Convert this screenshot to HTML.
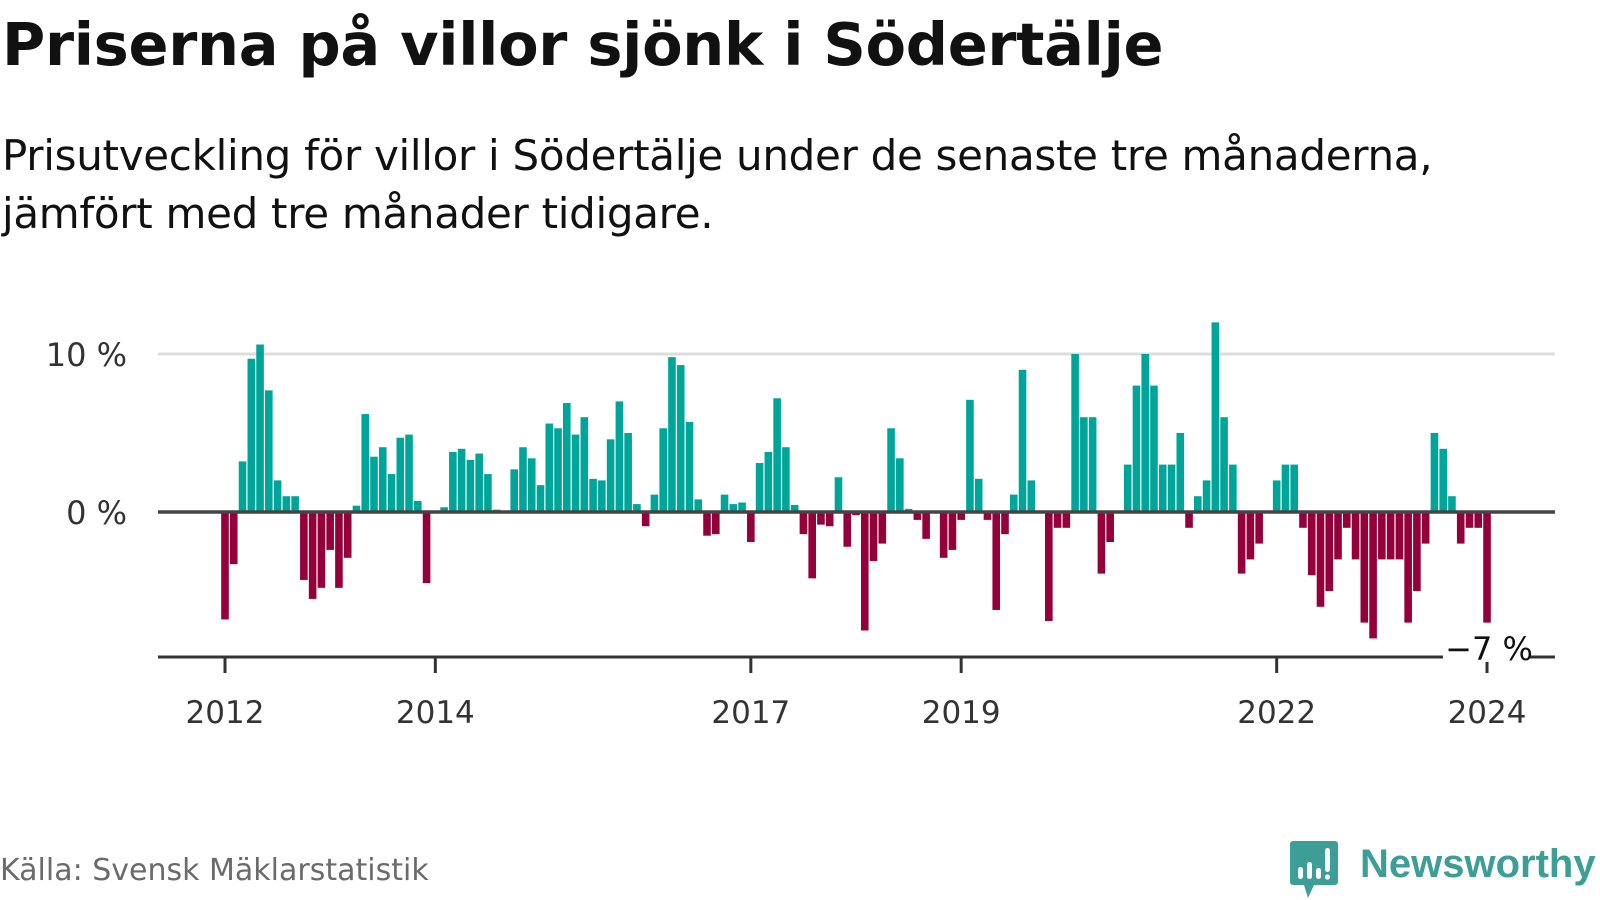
<!DOCTYPE html>
<html><head><meta charset="utf-8">
<style>
body{margin:0;width:1600px;height:900px;background:#fff;overflow:hidden;font-family:"DejaVu Sans","Liberation Sans",sans-serif;color:#111;}
#title{position:absolute;left:2px;top:10px;font-size:59px;font-weight:bold;margin:0;white-space:nowrap;letter-spacing:-0.3px;}
#sub{position:absolute;left:2px;top:127px;font-size:42px;line-height:58px;margin:0;color:#111;white-space:nowrap;letter-spacing:-0.3px;}
#src{position:absolute;left:0;top:853px;font-size:30px;color:#6b6b6b;}
#logo{position:absolute;left:1290px;top:840px;}
#brand{position:absolute;left:1360px;top:842px;font-size:40px;font-weight:bold;color:#3d9e97;font-family:"Liberation Sans",sans-serif;}
svg{position:absolute;left:0;top:0;}
</style></head><body>
<h1 id="title">Priserna på villor sjönk i Södertälje</h1>
<p id="sub">Prisutveckling för villor i Södertälje under de senaste tre månaderna,<br>jämfört med tre månader tidigare.</p>
<svg id="chart" width="1600" height="900"></svg>
<div id="src">Källa: Svensk Mäklarstatistik</div>
<svg id="logo" width="50" height="60" viewBox="0 0 50 60">
<path d="M3 1h42a3 3 0 0 1 3 3v38a3 3 0 0 1-3 3H24l-6 13-4-13H3a3 3 0 0 1-3-3V4a3 3 0 0 1 3-3z" fill="#3d9e97"/>
<rect x="8" y="27" width="5" height="12" rx="2.5" fill="#fff"/><rect x="17" y="22" width="5" height="17" rx="2.5" fill="#fff"/><rect x="26" y="28" width="5" height="11" rx="2.5" fill="#fff"/><rect x="35" y="8" width="5" height="24" rx="2.5" fill="#fff"/><circle cx="37.5" cy="37" r="2.6" fill="#fff"/>
</svg>
<div id="brand">Newsworthy</div>
<script>
const startYear = 2012;
const values = [
-6.8,-3.3,3.2,9.7,10.6,7.7,2.0,1.0,1.0,-4.3,-5.5,-4.8,
-2.4,-4.8,-2.9,0.4,6.2,3.5,4.1,2.4,4.7,4.9,0.7,-4.5,
0,0.3,3.8,4.0,3.3,3.7,2.4,0.15,0,2.7,4.1,3.4,
1.7,5.6,5.3,6.9,4.9,6.0,2.1,2.0,4.6,7.0,5.0,0.5,
-0.9,1.1,5.3,9.8,9.3,5.7,0.8,-1.5,-1.4,1.1,0.5,0.6,
-1.9,3.1,3.8,7.2,4.1,0.45,-1.4,-4.2,-0.8,-0.9,2.2,-2.2,
-0.2,-7.5,-3.1,-2.0,5.3,3.4,0.2,-0.5,-1.7,0,-2.9,-2.4,
-0.5,7.1,2.1,-0.5,-6.2,-1.4,1.1,9.0,2.0,0,-6.9,-1.0,
-1.0,10.0,6.0,6.0,-3.9,-1.9,0,3.0,8.0,10.0,8.0,3.0,
3.0,5.0,-1.0,1.0,2.0,12.0,6.0,3.0,-3.9,-3.0,-2.0,0,
2.0,3.0,3.0,-1.0,-4.0,-6.0,-5.0,-3.0,-1.0,-3.0,-7.0,-8.0,
-3.0,-3.0,-3.0,-7.0,-5.0,-2.0,5.0,4.0,1.0,-2.0,-1.0,-1.0,
-7.0
];
const yTicks = [0, 10];
const yTickLabels = ["0 %", "10 %"];
const xTickYears = [2012, 2014, 2017, 2019, 2022, 2024];
const lastLabel = "−7 %";

const svg = document.getElementById('chart');
const NS = 'http://www.w3.org/2000/svg';
const x0 = 225, monthW = 8.764, zeroY = 512, pxPer = 15.8;
const xPos = i => x0 + i * monthW;
const yPos = v => zeroY - v * pxPer;
function mk(tag, attrs){const e=document.createElementNS(NS,tag);for(const k in attrs)e.setAttribute(k,attrs[k]);svg.appendChild(e);return e;}

yTicks.forEach((t,k)=>{
  if(t!==0){
    const g = mk('line',{x1:158,x2:1555,y1:yPos(t),y2:yPos(t),stroke:'#dddddd','stroke-width':3});
    
    
  }
  const tx = mk('text',{x:127,y:yPos(t)+12,'text-anchor':'end','font-size':32,fill:'#333','font-family':'DejaVu Sans, sans-serif'});
  tx.textContent = yTickLabels[k];
  
  
});

values.forEach((v,i)=>{
  const y1 = yPos(Math.max(v,0)), y2 = yPos(Math.min(v,0));
  const r = mk('rect',{x:xPos(i)-3.8,y:y1,width:7.6,height:Math.max(y2-y1,0),fill:v>=0?'#00a59a':'#93003a'});
  
  
});

const zl = mk('line',{x1:158,x2:1555,y1:zeroY,y2:zeroY,stroke:'#444','stroke-width':3.5});



const ax = mk('line',{x1:158,x2:1555,y1:657,y2:657,stroke:'#333','stroke-width':3});



xTickYears.forEach(yr=>{
  const xx = xPos((yr-startYear)*12);
  const tk = mk('line',{x1:xx,x2:xx,y1:657,y2:673,stroke:'#333','stroke-width':3});
  
  
  const t = mk('text',{x:xx,y:723,'text-anchor':'middle','font-size':31,fill:'#333','font-family':'DejaVu Sans, sans-serif'});
  t.textContent = yr;
  
  
});

const li = values.length-1;
const lx = xPos(li);
const bg = mk('rect',{x:lx-44,y:632,width:86,height:30,fill:'#fff'});


const lt = mk('text',{x:lx+2,y:660,'text-anchor':'middle','font-size':32,fill:'#111','font-family':'DejaVu Sans, sans-serif'});
lt.textContent = lastLabel;


</script>
</body></html>
